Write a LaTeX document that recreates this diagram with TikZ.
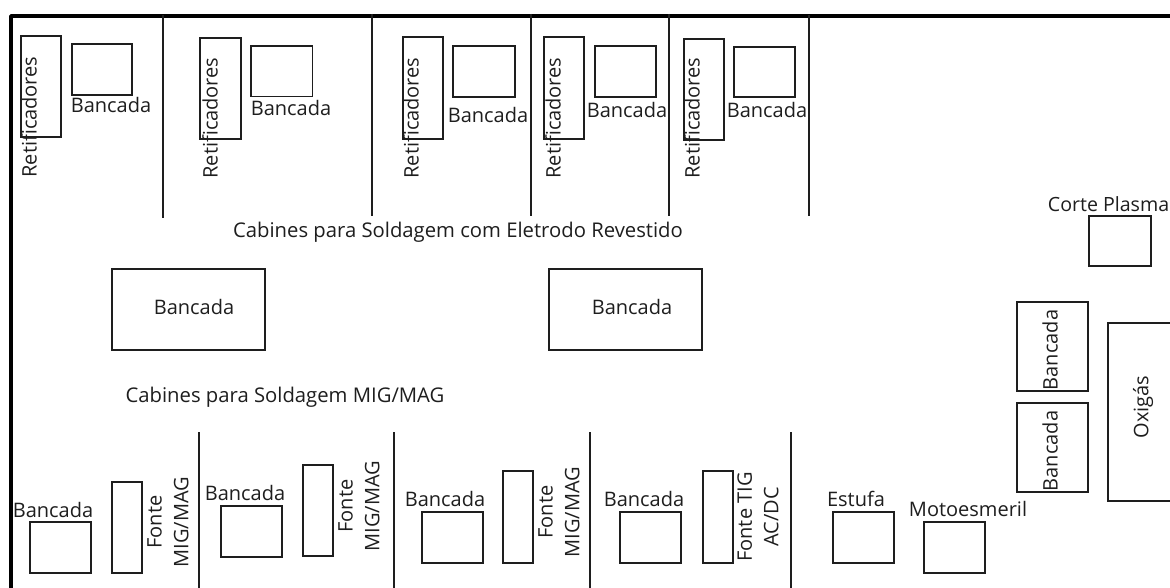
\documentclass[tikz,border=0pt]{standalone}
\usepackage{fontspec}
\setmainfont{Open Sans}
\definecolor{ink}{HTML}{1E1E1E}
\tikzset{
  x=0.75pt,y=-0.75pt,
  box/.style={draw=ink,line width=1.1pt},
  wall/.style={draw=ink,line width=1.2pt},
  frameline/.style={draw=black,line width=2.8pt,line join=round},
  lbl/.style={text=ink,font=\fontsize{15pt}{18pt}\selectfont,inner sep=0pt,align=center},
  vlbl/.style={lbl,rotate=90},
  slbl/.style={text=ink,font=\fontsize{15pt}{20pt}\selectfont,inner sep=0pt,align=center,rotate=90},
}
\begin{document}
\begin{tikzpicture}
\useasboundingbox (0,0) rectangle (1170,588);
\clip (0,0) rectangle (1170,588);
\fill[white] (0,0) rectangle (1170,588);
\coordinate (tl) at (11,16); \coordinate (tr) at (1175,16); \coordinate (bl) at (11,592);
\draw[frameline] (bl) -- (tl) -- (tr);
% top walls
\foreach \n/\x/\a/\b in {a/163/15/218,b/372/14/216,c/531/14/216,d/669/14/216,e/809/15/216}{
  \coordinate (t\n) at (\x,\a); \coordinate (u\n) at (\x,\b); \draw[wall] (t\n) -- (u\n);}
% bottom walls
\foreach \n/\x in {a/199,b/394,c/590,d/791}{
  \coordinate (v\n) at (\x,432); \coordinate (w\n) at (\x,590); \draw[wall] (v\n) -- (w\n);}
% retificadores + bancadas
\foreach \xa/\ya/\xb/\yb/\tx/\ty in {21/36/61/137/29/117, 200/38/241/139/210/118, 403/37/443/139/411/118, 544/37/584/139/553/118, 684/39/724/140/692/118}{
  \draw[box] (\xa,\ya) rectangle (\xb,\yb);
  \node[vlbl] at (\tx,\ty) {Retificadores};}
\foreach \xa/\ya/\xb/\yb/\tx/\ty in {72/44/132/95/111/105, 251/46/312.5/96.5/291/108, 453/46/515/97/488/115, 595/46/656/97/627/110, 734/47/795/97/767/110}{
  \draw[box] (\xa,\ya) rectangle (\xb,\yb);
  \node[lbl] at (\tx,\ty) {Bancada};}
\node[lbl,font=\fontsize{15.2pt}{18pt}\selectfont] (cab1) at (458,232) {Cabines para Soldagem com Eletrodo Revestido};
\node[lbl,font=\fontsize{15.2pt}{18pt}\selectfont] (cab2) at (285,397) {Cabines para Soldagem MIG/MAG};
% big benches
\foreach \xa/\tx in {112/194,549/632}{
  \draw[box] (\xa,269) rectangle ++(153,81);
  \node[lbl] at (\tx,307) {Bancada};}
% bottom benches
\foreach \xa/\ya/\tx/\ty in {30/522/53/510, 221/506/245/493, 422/512/445/499, 620/512/644/499}{
  \draw[box] (\xa,\ya) rectangle ++(61,51);
  \node[lbl] at (\tx,\ty) {Bancada};}
% fontes
\foreach \xa/\ya/\yb in {112/482/573, 303/465/556, 503/471/563, 703/471/563}{
  \draw[box] (\xa,\ya) rectangle (\xa+30,\yb);}
\node[slbl] at (168,522) {Fonte\\MIG/MAG};
\node[slbl] at (359,506) {Fonte\\MIG/MAG};
\node[slbl] at (559,512) {Fonte\\MIG/MAG};
\node[slbl] at (758,517) {Fonte TIG\\AC/DC};
% estufa, motoesmeril
\draw[box] (833,512) rectangle ++(61,51);
\node[lbl] at (856,499) {Estufa};
\draw[box] (924,522) rectangle ++(61,51);
\node[lbl] at (968,509) {Motoesmeril};
% plasma
\draw[box] (1089,216) rectangle (1151,266);
\node[lbl,anchor=east,font=\fontsize{14.7pt}{18pt}\selectfont] at (1169.5,204) {Corte Plasma};
% right benches
\draw[box] (1017,302) rectangle (1088,391);
\node[vlbl] at (1050,350) {Bancada};
\draw[box] (1017,403) rectangle (1088,492);
\node[vlbl] at (1050,451) {Bancada};
\draw[box] (1108,323) rectangle (1176,501);
\node[vlbl] at (1143,407) {Oxigás};
\end{tikzpicture}
\end{document}
